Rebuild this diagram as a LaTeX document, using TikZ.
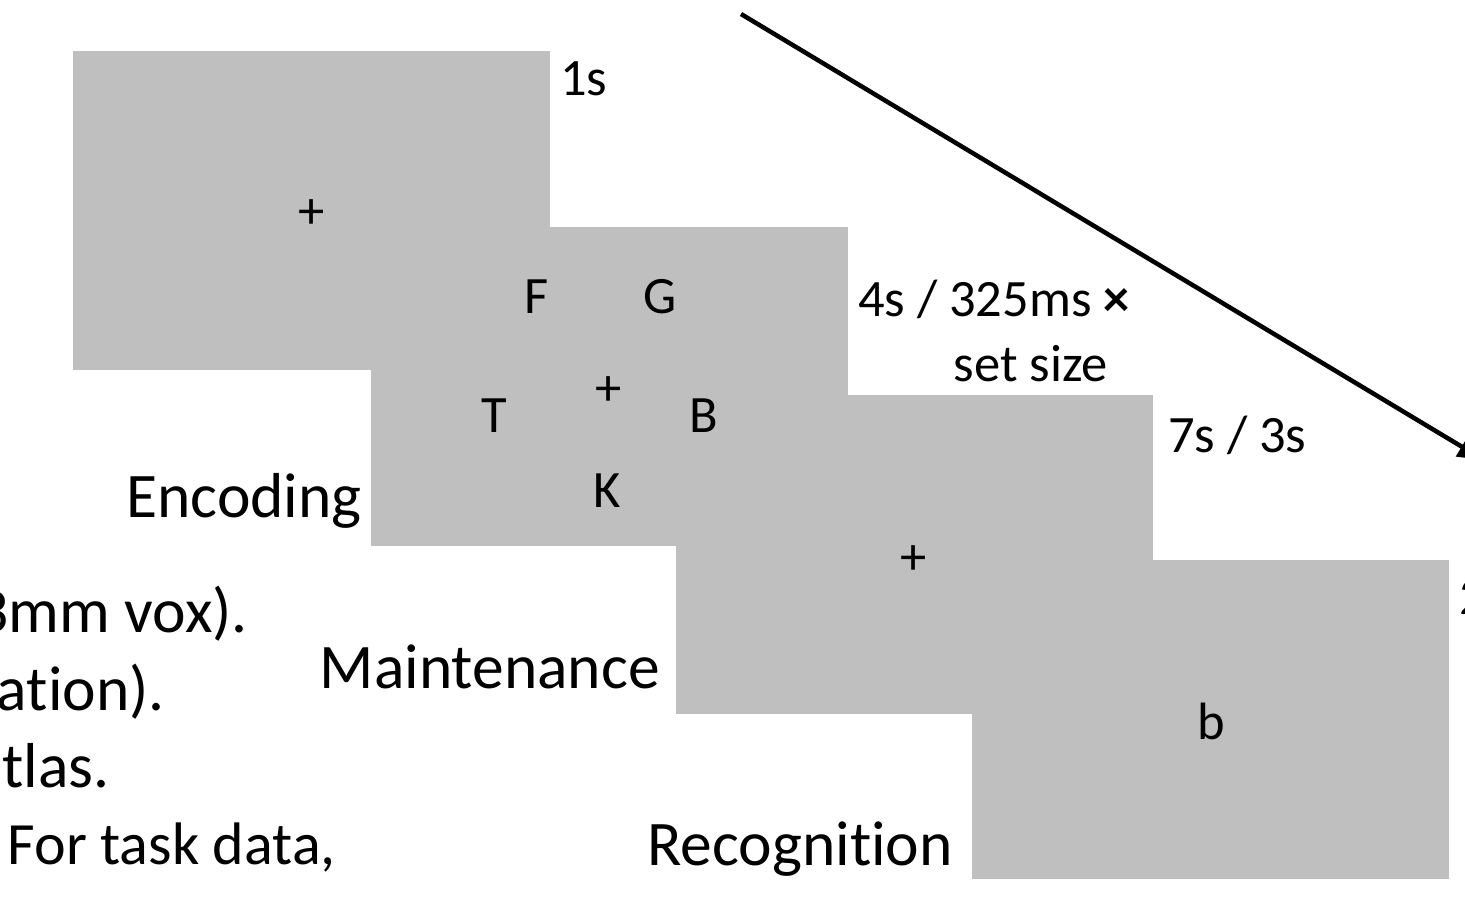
\documentclass[tikz,border=0pt]{standalone}
\usepackage{fontspec}
\setmainfont{Carlito}[Ligatures={NoCommon}]
\usetikzlibrary{arrows.meta}
\definecolor{slide}{RGB}{191,191,191}
\begin{document}
\begin{tikzpicture}[x=1pt,y=-1pt,
  screen/.style={fill=slide,draw=none,inner sep=0pt,minimum width=477pt,minimum height=319pt,anchor=north west},
  big/.style={font=\fontsize{63.5}{76}\selectfont,inner sep=0pt},
  small/.style={font=\fontsize{52.5}{62}\selectfont,inner sep=0pt},
  timeline/.style={line width=4.5pt,-{Triangle[length=26pt,width=22pt]}}]
\useasboundingbox (0,0) rectangle (1465,913);
\clip (0,0) rectangle (1465,913);
% screens
\node[screen] (s1) at (73,51) {};
\node[screen] (s2) at (371,227) {};
\node[screen] (s3) at (676,395) {};
\node[screen] (s4) at (972,560) {};
% time arrow
\coordinate (tstart) at (741,14);
\coordinate (tend) at (1484,460);
\draw[timeline] (tstart) -- (tend);
% screen contents
\node[small] (fix1) at (312,214) {+};
\node[small,anchor=base] (lF) at (537,313) {F};
\node[small,anchor=base] (lG) at (660,313) {G};
\node[small] (fix2) at (609,391) {+};
\node[small,anchor=base] (lT) at (494,432) {T};
\node[small,anchor=base] (lB) at (704,432) {B};
\node[small,anchor=base] (lK) at (607,507) {K};
\node[small] (fix3) at (914,560) {+};
\node[small,anchor=base] (lb) at (1211,739) {b};
% durations
\node[small,anchor=base west] (d1) at (560,95) {1s};
\node[small,anchor=base west] (d2a) at (858,316) {4s / 325ms \textbf{×}};
\node[small,anchor=base] (d2b) at (1031,381) {set size};
\node[small,anchor=base west] (d3) at (1168,452) {7s / 3s};
\node[small,anchor=base west] (d4) at (1459,614) {2s};
% phase labels
\node[big,anchor=base east] (enc) at (362,517) {Encoding};
\node[big,anchor=base east] (mai) at (660,688) {Maintenance};
\node[big,anchor=base east] (rec) at (953,865) {Recognition};
% cut-off text at left
\node[big,anchor=base east] (t1) at (248,632) {3mm vox).};
\node[big,anchor=base east] (t2) at (165,710) {ation).};
\node[big,anchor=base east] (t3) at (110,787) {tlas.};
\node[big,font=\fontsize{60}{72}\selectfont,anchor=base east] (t4) at (336,864) {For task data,};
\end{tikzpicture}
\end{document}
